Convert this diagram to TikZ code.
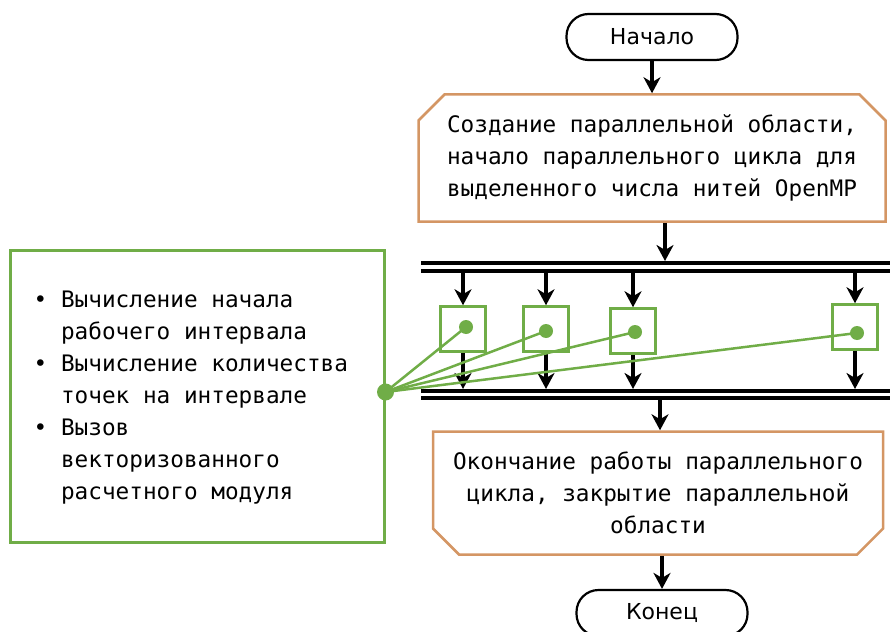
\documentclass[tikz,border=0pt]{standalone}
\usepackage{fontspec}
\setmainfont{DejaVu Sans}
\setmonofont{DejaVu Sans Mono}
\usepackage{tikz}
\usetikzlibrary{arrows.meta}
\usetikzlibrary{shapes.misc}
\usetikzlibrary{positioning}
\definecolor{loopedge}{RGB}{212,150,100}
\definecolor{threadgreen}{RGB}{112,173,71}
\newcommand{\boxfont}{\ttfamily\fontsize{22.7}{32}\selectfont}
\tikzset{
  flow/.style = {-{Stealth[length = 16pt, width = 17pt, inset = 5pt]}, line width = 3.5pt},
  bar/.style = {line width = 4.5pt},
  terminal/.style = {draw, line width = 2.2pt, rounded corners = 22pt,
    minimum width = 171pt, minimum height = 46pt,
    font = \fontsize{22}{26}\selectfont},
  loopbox/.style = {draw = loopedge, line width = 2.5pt, fill = white,
    chamfered rectangle, chamfered rectangle sep = 13pt, inner sep = 0pt,
    align = center, font = \boxfont},
  notebox/.style = {draw = threadgreen, line width = 3pt, minimum width = 374pt,
    minimum height = 292pt},
  thread/.style = {draw = threadgreen, line width = 2.5pt, minimum size = 45pt},
  tdot/.style = {circle, fill = threadgreen, inner sep = 0pt, minimum size = 14pt},
  tie/.style = {draw = threadgreen, line width = 2.5pt}
}
\newcommand{\itm}{\textbullet\ }
\newcommand{\ind}{\hphantom{\textbullet\ }}

\begin{document}
\begin{tikzpicture}[x = 1pt, y = -1pt]
  \useasboundingbox (0,0) rectangle (890,631);
  \clip (0,0) rectangle (890,631);
  \node [terminal] (start) at (652,37) {Начало};
  \node [loopbox, chamfered rectangle corners = {north west, north east},
    minimum width = 467pt, minimum height = 127pt] (open) at (652,158)
    {Создание параллельной области,\\начало параллельного цикла для\\выделенного числа нитей OpenMP};
  % fork and join bars
  \coordinate (forkin) at (665,261);
  \coordinate (forka) at (421,263);
  \coordinate (forkb) at (421,271);
  \coordinate (joina) at (421,391);
  \coordinate (joinb) at (421,398);
  \coordinate (joinout) at (660,400);
  \foreach \c in {forka, forkb, joina, joinb}
    \draw [bar] (\c) -- (\c -| 900,0);
  % threads
  \foreach \name/\x/\y in {t1/463/329, t2/546/329, t3/633/331, t4/855/327}
    \node [thread] (\name) at (\x,\y) {};
  \foreach \name/\x/\y in {d1/466/327, d2/546/331, d3/635/332, d4/857/333}
    \node [tdot] (\name) at (\x,\y) {};
  \node [loopbox, chamfered rectangle corners = {south west, south east},
    minimum width = 450pt, minimum height = 123pt] (close) at (658,493)
    {Окончание работы параллельного\\цикла, закрытие параллельной\\области};
  \node [terminal] (end) at (662,613) {Конец};
  \node [notebox] (work) at (197,396) {};
  \node [anchor = west, align = left, inner sep = 0pt, font = \boxfont] (worklist)
    at ([xshift = 25pt] work.west |- 0,398)
    {\itm Вычисление начала\\\ind рабочего интервала\\\itm Вычисление количества\\\ind точек на интервале\\\itm Вызов\\\ind векторизованного\\\ind расчетного модуля};
  \node [tdot, minimum size = 17pt] (hub) at (work.east |- 0,392) {};
  % paths
  \draw [flow] (start) -- (open);
  \draw [flow] (open.south -| forkin) -- (forkin);
  \foreach \name in {t1, t2, t3, t4} {
    \draw [flow] (\name |- forkb) -- (\name);
    \draw [flow, shorten > = 2pt] (\name) -- (\name |- joina);
  }
  \draw [flow] (joinout) -- (close.north -| joinout);
  \draw [flow] (close.south -| end) -- (end);
  \foreach \d in {d1, d2, d3, d4}
    \draw [tie] (hub.center) -- (\d.center);
\end{tikzpicture}
\end{document}
